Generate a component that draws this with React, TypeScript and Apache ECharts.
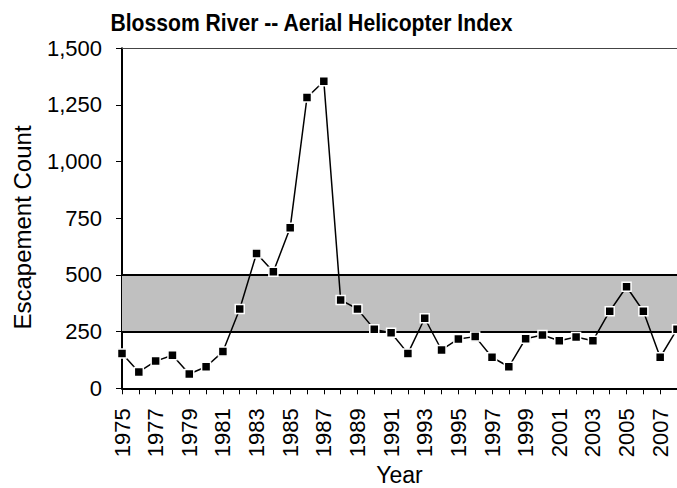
import React, { useEffect, useRef } from "react";
import * as echarts from "echarts";

const years = [
  "1975", "1976", "1977", "1978", "1979", "1980", "1981", "1982", "1983", "1984",
  "1985", "1986", "1987", "1988", "1989", "1990", "1991", "1992", "1993", "1994",
  "1995", "1996", "1997", "1998", "1999", "2000", "2001", "2002", "2003", "2004",
  "2005", "2006", "2007", "2008",
];
const escapement = [
  154, 72, 120, 146, 63, 95, 162, 350, 595, 514,
  708, 1283, 1355, 390, 350, 260, 245, 154, 309, 169,
  218, 228, 137, 95, 219, 235, 210, 226, 210, 340,
  448, 340, 137, 260,
];
const goalRange = [250, 500];
const yMin = 0;
const yMax = 1500;
const yInterval = 250;

const titleText = "Blossom River -- Aerial Helicopter Index";
const yName = "Escapement Count";
const xName = "Year";

const FONT = "'Liberation Sans', Arial, Helvetica, sans-serif";

export default function App() {
  const ref = useRef<HTMLDivElement>(null);
  useEffect(() => {
    if (!ref.current) return;
    const chart = echarts.init(ref.current, undefined, { renderer: "svg" });
    chart.setOption({
      animation: false,
      backgroundColor: "#ffffff",
      textStyle: { fontFamily: FONT, color: "#000" },
      grid: {
        left: 122,
        right: 0,
        top: 48.3,
        bottom: 99.7,
        containLabel: false,
        outerBoundsMode: "none",
      },
      graphic: [
        {
          type: "text",
          x: 311.5,
          y: 23.4,
          scaleX: 0.92,
          style: {
            text: titleText,
            fontFamily: FONT,
            fontSize: 23,
            fontWeight: "bold",
            fill: "#000",
            textAlign: "center",
            textVerticalAlign: "middle",
          },
        },
        {
          type: "text",
          x: 22.5,
          y: 227.5,
          rotation: Math.PI / 2,
          style: {
            text: yName,
            fontFamily: FONT,
            fontSize: 24,
            fill: "#000",
            textAlign: "center",
            textVerticalAlign: "middle",
          },
        },
      ],
      xAxis: {
        type: "category",
        data: years,
        boundaryGap: false,
        name: xName,
        nameLocation: "middle",
        nameGap: 75,
        nameMoveOverlap: false,
        nameTextStyle: { fontFamily: FONT, fontSize: 23, color: "#000" },
        axisLine: { show: true, lineStyle: { color: "#000", width: 2 } },
        axisTick: { show: true, interval: 0, length: 6, lineStyle: { color: "#000", width: 1 } },
        axisLabel: {
          interval: 1,
          rotate: 90,
          margin: 20,
          fontFamily: FONT,
          fontSize: 22,
          color: "#000",
        },
        splitLine: { show: false },
      },
      yAxis: {
        type: "value",
        min: yMin,
        max: yMax,
        interval: yInterval,
        axisLine: { show: true, lineStyle: { color: "#000", width: 2 } },
        axisTick: { show: true, length: 6, lineStyle: { color: "#000", width: 1 } },
        axisLabel: {
          margin: 20,
          fontFamily: FONT,
          fontSize: 22,
          color: "#000",
          formatter: (v: number) => v.toLocaleString("en-US"),
        },
        splitLine: { show: false },
      },
      series: [
        {
          type: "line",
          data: escapement,
          z: 1,
          symbol: "none",
          silent: true,
          lineStyle: { opacity: 0 },
          markArea: {
            silent: true,
            itemStyle: { color: "#c0c0c0" },
            data: [[{ yAxis: goalRange[0] }, { yAxis: goalRange[1] }]],
          },
          markLine: {
            silent: true,
            symbol: ["none", "none"],
            label: { show: false },
            data: [
              { yAxis: goalRange[0], lineStyle: { color: "#000", width: 2, type: "solid" } },
              { yAxis: goalRange[1], lineStyle: { color: "#000", width: 2, type: "solid" } },
              { yAxis: yMax, lineStyle: { color: "#444", width: 1, type: "solid" } },
            ],
          },
        },
        {
          type: "line",
          data: escapement,
          z: 5,
          clip: false,
          symbol: "rect",
          symbolSize: 9,
          lineStyle: { color: "#000", width: 1.5 },
          itemStyle: { color: "#000", borderColor: "#fff", borderWidth: 1.5 },
        },
      ],
    });
    return () => chart.dispose();
  }, []);
  return (
    <div
      ref={ref}
      style={{ position: "fixed", left: 0, top: 0, width: 677, height: 488, background: "#fff" }}
    />
  );
}
